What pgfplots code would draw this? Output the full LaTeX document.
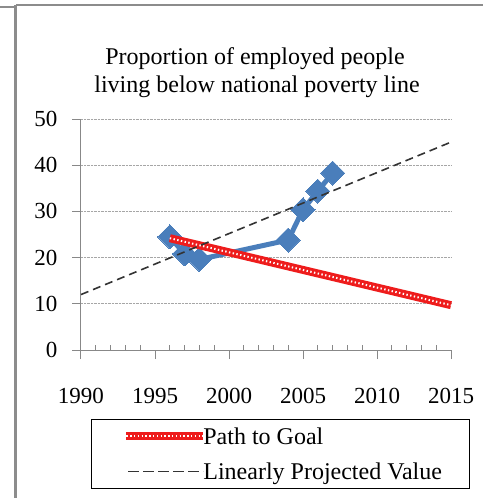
\documentclass[border=0pt]{standalone}
\usepackage{pgfplots}
\pgfplotsset{compat=1.18}
\usepackage{fontspec}
\setmainfont{Liberation Serif}
\definecolor{blueS}{HTML}{4A7EBB}
\definecolor{redS}{HTML}{EE1C1C}
\definecolor{frameG}{HTML}{8C8C8C}
\definecolor{axisG}{HTML}{888888}
\begin{document}
\begin{tikzpicture}[x=1pt,y=1pt]
\path[use as bounding box] (0,0) rectangle (483,498);
\fill[frameG] (13.5,0) rectangle (17,492.5);
\fill[frameG] (0,489.5) rectangle (15,491.5);
\fill[frameG] (16,491.5) rectangle (483,494);
\node[anchor=base, font=\fontsize{24}{28}\selectfont, inner sep=0pt] at (255,433) {Proportion of employed people};
\node[anchor=base, font=\fontsize{24}{28}\selectfont, inner sep=0pt] at (257,405) {living below national poverty line};
\begin{axis}[
  at={(81pt,148pt)}, anchor=south west,
  scale only axis, width=370pt, height=231pt,
  xmin=1990, xmax=2015, ymin=0, ymax=50,
  axis lines=left, axis line style={axisG, line width=1pt, -},
  xtick={1990,1995,2000,2005,2010,2015},
  ytick={0,10,20,30,40,50},
  extra x ticks={1991,1992,1993,1994,1996,1997,1998,1999,2001,2002,2003,2004,2006,2007,2008,2009,2011,2012,2013,2014},
  extra x tick labels={},
  extra x tick style={tick align=inside, major tick length=5pt, xmajorgrids=false},
  tick align=outside,
  major tick length=9pt,
  tick style={axisG, line width=1pt},
  ymajorgrids, grid style={gray!70, densely dotted, line width=0.8pt},
  xticklabel style={/pgf/number format/1000 sep={}, yshift=-26pt},
  yticklabel style={xshift=-11pt},
  /pgf/number format/assume math mode=true,
  tick label style={font=\fontsize{23}{28}\selectfont},
  clip=false, clip marker paths=true,
  legend style={at={(0.027,-0.2987)}, anchor=north west, draw=black, line width=0.8pt,
    inner xsep=31pt, inner ysep=6pt, row sep=13pt, column sep=-6pt,
    font=\fontsize{24}{28}\selectfont},
  legend cell align=left,
]
\addplot[blueS, line width=5pt, mark=square*, mark size=8.5pt, mark options={solid, rotate=45, fill=blueS, draw=blueS, line width=0pt}, forget plot]
  coordinates {(1996,24.5) (1997,20.8) (1998,19.6) (2004,23.8) (2005,30.4) (2006,34.4) (2007,38.3)};
\addplot[redS, line width=8pt, postaction={draw, white, line width=2pt, dash pattern=on 1.4pt off 2.4pt},
  legend image code/.code={\draw[redS, line width=8pt, postaction={draw, white, line width=2pt, dash pattern=on 1.4pt off 2.4pt}] (0pt,0pt) -- (77pt,0pt);}]
  coordinates {(1996,24.2) (2015,9.7)};
\addlegendentry{\makebox[233pt][l]{Path to Goal}}
\addplot[black!80, line width=1.6pt, dash pattern=on 8pt off 5pt,
  legend image code/.code={\draw[black!80, line width=1.2pt, dash pattern=on 11pt off 4pt] (2pt,0pt) -- (77pt,0pt);}]
  coordinates {(1990,12) (2015,45)};
\addlegendentry{\makebox[233pt][l]{Linearly Projected Value}}
\end{axis}
\end{tikzpicture}
\end{document}
